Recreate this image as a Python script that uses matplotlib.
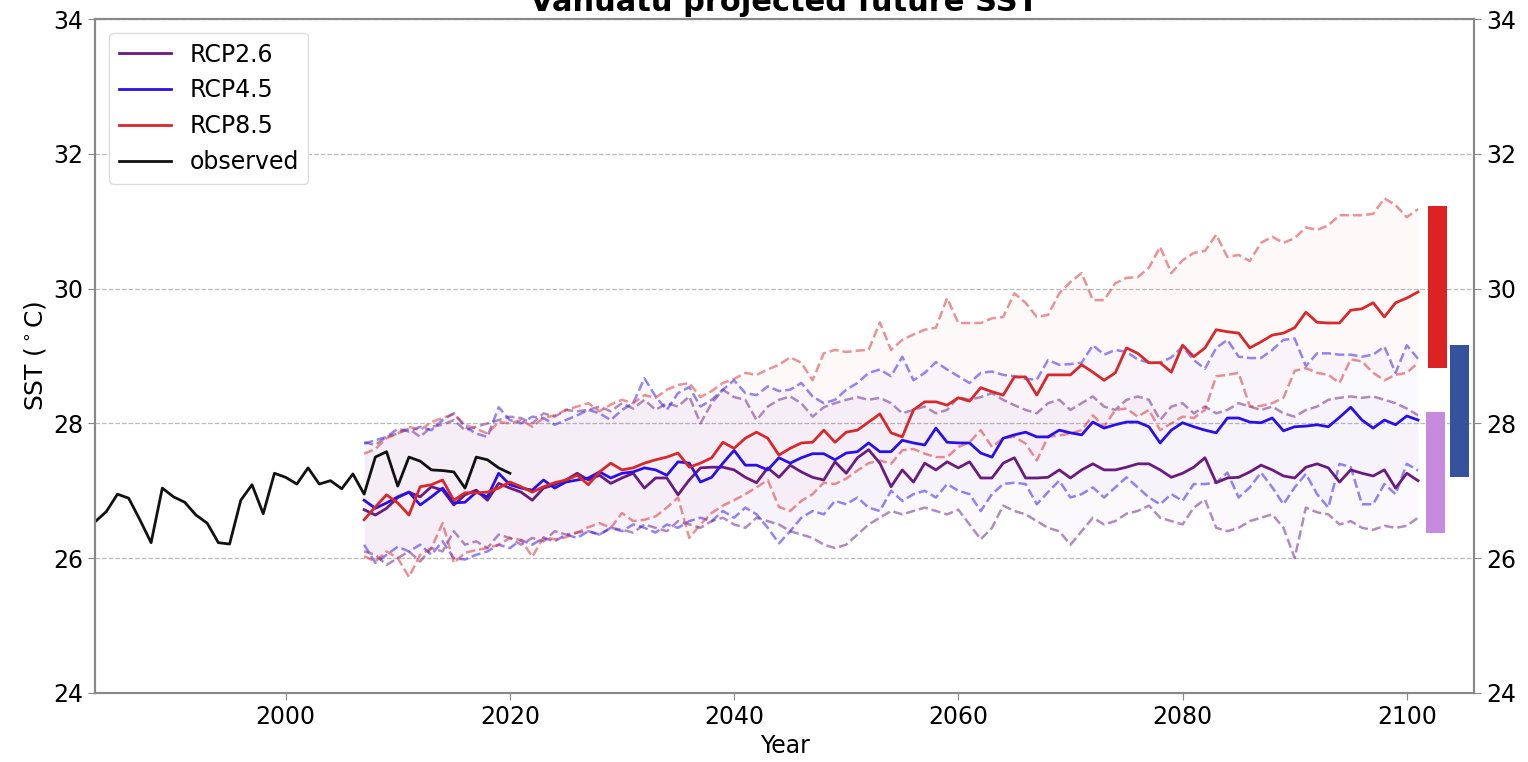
import numpy as np
import matplotlib.pyplot as plt

# observed SST
obs_years = np.arange(1983, 2021)
obs_sst = [26.54, 26.69, 26.95, 26.89, 26.57, 26.23, 27.04, 26.91, 26.83, 26.64,
           26.52, 26.23, 26.21, 26.86, 27.09, 26.66, 27.26, 27.20, 27.10, 27.34,
           27.10, 27.15, 27.03, 27.25, 26.95, 27.50, 27.58, 27.07, 27.50, 27.44,
           27.31, 27.30, 27.28, 27.04, 27.50, 27.46, 27.34, 27.26]

# model projections 2007-2101
proj_years = np.arange(2007, 2102)

rcp26_med = [26.72, 26.64, 26.74, 26.90, 26.98, 26.91, 27.06, 27.01, 26.79, 26.94,
             27.01, 26.86, 27.11, 27.04, 26.98, 26.86, 27.04, 27.09, 27.16, 27.26,
             27.16, 27.23, 27.11, 27.19, 27.26, 27.04, 27.19, 27.19, 26.94, 27.16,
             27.34, 27.35, 27.35, 27.31, 27.20, 27.12, 27.34, 27.20, 27.38, 27.28,
             27.20, 27.16, 27.43, 27.26, 27.49, 27.61, 27.41, 27.06, 27.31, 27.13,
             27.41, 27.31, 27.43, 27.34, 27.43, 27.19, 27.19, 27.41, 27.49, 27.19,
             27.19, 27.20, 27.31, 27.19, 27.31, 27.40, 27.31, 27.31, 27.35, 27.40,
             27.40, 27.31, 27.20, 27.26, 27.35, 27.49, 27.12, 27.19, 27.20, 27.28,
             27.38, 27.31, 27.22, 27.19, 27.35, 27.40, 27.34, 27.13, 27.31, 27.26,
             27.22, 27.31, 27.04, 27.26, 27.15]
rcp26_hi = [27.72, 27.68, 27.80, 27.85, 27.92, 27.80, 27.95, 27.98, 28.05, 27.90,
            27.95, 28.00, 28.05, 28.10, 28.08, 28.00, 28.15, 28.10, 28.20, 28.18,
            28.20, 28.25, 28.18, 28.30, 28.22, 28.35, 28.20, 28.30, 28.25, 28.40,
            28.00, 28.30, 28.50, 28.39, 28.35, 28.05, 28.25, 28.35, 28.40, 28.30,
            28.10, 28.24, 28.30, 28.35, 28.39, 28.35, 28.38, 28.30, 28.15, 28.20,
            28.25, 28.15, 28.20, 28.39, 28.35, 28.39, 28.45, 28.35, 28.27, 28.20,
            28.15, 28.30, 28.35, 28.20, 28.30, 28.40, 28.25, 28.20, 28.35, 28.40,
            28.35, 28.05, 28.25, 28.30, 28.15, 28.25, 28.15, 28.20, 28.30, 28.25,
            28.20, 28.25, 28.15, 28.10, 28.20, 28.25, 28.35, 28.38, 28.40, 28.38,
            28.40, 28.35, 28.30, 28.22, 28.12]
rcp26_lo = [26.10, 26.05, 25.90, 26.00, 26.10, 25.95, 26.15, 26.10, 26.40, 26.20,
            26.25, 26.15, 26.35, 26.30, 26.20, 26.30, 26.25, 26.40, 26.35, 26.38,
            26.40, 26.35, 26.45, 26.42, 26.38, 26.50, 26.45, 26.40, 26.55, 26.50,
            26.45, 26.55, 26.60, 26.50, 26.45, 26.60, 26.55, 26.50, 26.40, 26.35,
            26.30, 26.20, 26.15, 26.20, 26.35, 26.50, 26.60, 26.70, 26.65, 26.70,
            26.75, 26.70, 26.65, 26.72, 26.50, 26.28, 26.45, 26.78, 26.70, 26.65,
            26.55, 26.45, 26.40, 26.20, 26.40, 26.60, 26.50, 26.55, 26.66, 26.70,
            26.78, 26.60, 26.55, 26.50, 26.75, 26.87, 26.45, 26.40, 26.45, 26.55,
            26.60, 26.65, 26.45, 26.00, 26.75, 26.68, 26.65, 26.50, 26.55, 26.45,
            26.42, 26.48, 26.45, 26.48, 26.60]

rcp45_med = [26.86, 26.74, 26.82, 26.91, 26.98, 26.79, 26.91, 27.04, 26.82, 26.83,
             26.98, 26.91, 27.26, 27.09, 27.04, 27.01, 27.16, 27.04, 27.13, 27.16,
             27.19, 27.28, 27.19, 27.26, 27.28, 27.34, 27.31, 27.23, 27.43, 27.41,
             27.13, 27.20, 27.41, 27.60, 27.38, 27.38, 27.31, 27.49, 27.41, 27.49,
             27.55, 27.55, 27.46, 27.56, 27.58, 27.71, 27.58, 27.58, 27.75, 27.71,
             27.68, 27.93, 27.72, 27.71, 27.71, 27.56, 27.50, 27.78, 27.83, 27.87,
             27.80, 27.80, 27.90, 27.86, 27.83, 28.02, 27.93, 27.98, 28.02, 28.02,
             27.95, 27.71, 27.90, 28.01, 27.95, 27.90, 27.86, 28.08, 28.08, 28.02,
             28.01, 28.08, 27.89, 27.95, 27.96, 27.98, 27.95, 28.09, 28.24, 28.05,
             27.93, 28.05, 27.98, 28.11, 28.05]
rcp45_hi = [27.70, 27.75, 27.80, 27.92, 27.88, 27.95, 27.90, 28.05, 28.15, 27.95,
            27.85, 27.80, 28.24, 28.05, 28.00, 28.10, 28.08, 27.98, 28.05, 28.12,
            28.20, 28.15, 28.05, 28.20, 28.30, 28.67, 28.40, 28.20, 28.45, 28.54,
            28.25, 28.35, 28.50, 28.64, 28.45, 28.42, 28.55, 28.48, 28.50, 28.60,
            28.40, 28.30, 28.35, 28.50, 28.60, 28.75, 28.80, 28.70, 28.99, 28.64,
            28.75, 28.91, 28.80, 28.70, 28.60, 28.75, 28.77, 28.72, 28.70, 28.66,
            28.65, 28.94, 28.87, 28.88, 28.90, 29.16, 29.02, 29.09, 29.06, 28.95,
            28.90, 28.90, 28.98, 29.14, 28.94, 28.81, 29.12, 29.24, 28.99, 28.97,
            28.97, 29.09, 29.24, 29.26, 28.85, 29.04, 29.04, 29.02, 29.02, 28.99,
            29.02, 29.14, 28.75, 29.16, 28.96]
rcp45_lo = [26.20, 25.93, 26.05, 26.17, 26.10, 26.20, 26.05, 26.25, 26.00, 25.98,
            26.05, 26.10, 26.20, 26.15, 26.27, 26.20, 26.30, 26.25, 26.35, 26.30,
            26.40, 26.35, 26.45, 26.40, 26.50, 26.45, 26.38, 26.50, 26.45, 26.55,
            26.60, 26.55, 26.70, 26.60, 26.75, 26.65, 26.45, 26.22, 26.40, 26.60,
            26.70, 26.65, 26.85, 26.80, 26.90, 26.75, 26.70, 27.00, 26.85, 26.95,
            27.00, 26.90, 27.10, 27.00, 26.95, 26.70, 26.95, 27.10, 27.12, 27.10,
            26.80, 26.98, 27.15, 26.90, 26.95, 27.05, 26.90, 27.05, 27.20, 27.05,
            26.90, 26.80, 26.95, 26.85, 27.10, 27.10, 27.12, 27.27, 26.90, 27.05,
            27.27, 27.05, 26.80, 27.05, 27.25, 26.95, 26.75, 27.40, 27.35, 26.80,
            26.80, 27.10, 26.95, 27.40, 27.30]

rcp85_med = [26.57, 26.76, 26.94, 26.82, 26.64, 27.06, 27.09, 27.16, 26.86, 26.97,
             26.97, 26.98, 27.04, 27.13, 27.06, 26.98, 27.06, 27.12, 27.16, 27.23,
             27.09, 27.28, 27.41, 27.31, 27.34, 27.41, 27.46, 27.50, 27.56, 27.35,
             27.41, 27.49, 27.72, 27.63, 27.78, 27.87, 27.78, 27.53, 27.63, 27.71,
             27.72, 27.90, 27.72, 27.87, 27.90, 28.02, 28.14, 27.86, 27.80, 28.20,
             28.32, 28.32, 28.27, 28.38, 28.33, 28.53, 28.47, 28.42, 28.69, 28.69,
             28.42, 28.72, 28.72, 28.72, 28.87, 28.76, 28.64, 28.75, 29.12, 29.04,
             28.90, 28.90, 28.76, 29.16, 28.99, 29.12, 29.39, 29.36, 29.34, 29.12,
             29.21, 29.31, 29.34, 29.42, 29.65, 29.50, 29.49, 29.49, 29.68, 29.70,
             29.79, 29.58, 29.79, 29.86, 29.95]
rcp85_hi = [27.55, 27.62, 27.78, 27.85, 27.95, 27.90, 28.02, 28.08, 28.14, 27.98,
            27.92, 27.85, 28.02, 28.00, 28.05, 27.95, 28.08, 28.12, 28.20, 28.25,
            28.30, 28.18, 28.28, 28.35, 28.30, 28.42, 28.38, 28.50, 28.57, 28.60,
            28.39, 28.48, 28.60, 28.66, 28.75, 28.72, 28.80, 28.87, 28.98, 28.90,
            28.64, 29.04, 29.09, 29.06, 29.08, 29.09, 29.50, 29.09, 29.24, 29.32,
            29.39, 29.42, 29.86, 29.49, 29.49, 29.49, 29.56, 29.58, 29.93, 29.79,
            29.58, 29.61, 29.93, 30.10, 30.23, 29.83, 29.83, 30.08, 30.16, 30.17,
            30.31, 30.62, 30.23, 30.42, 30.53, 30.56, 30.80, 30.47, 30.50, 30.41,
            30.68, 30.77, 30.68, 30.75, 30.91, 30.87, 30.94, 31.09, 31.09, 31.09,
            31.11, 31.34, 31.24, 31.06, 31.18]
rcp85_lo = [26.03, 25.95, 26.10, 26.00, 25.72, 26.05, 26.15, 26.52, 25.93, 26.08,
            26.12, 26.15, 26.20, 26.30, 26.27, 26.02, 26.31, 26.28, 26.31, 26.38,
            26.46, 26.52, 26.45, 26.67, 26.55, 26.57, 26.62, 26.75, 26.90, 26.30,
            26.50, 26.67, 26.78, 26.86, 26.95, 27.05, 27.16, 26.76, 26.70, 26.85,
            26.95, 27.12, 27.10, 27.18, 27.30, 27.41, 27.45, 27.40, 27.60, 27.62,
            27.55, 27.50, 27.50, 27.65, 27.72, 27.90, 27.65, 27.78, 27.80, 27.70,
            27.45, 27.80, 27.82, 27.85, 27.90, 28.12, 27.95, 28.20, 28.22, 28.10,
            28.20, 27.90, 28.00, 28.10, 28.08, 28.20, 28.70, 28.72, 28.75, 28.25,
            28.26, 28.30, 28.38, 28.78, 28.82, 28.75, 28.72, 28.60, 28.95, 28.92,
            28.75, 28.64, 28.72, 28.75, 28.90]

# end-of-century ranges shown as bars at the right edge
range_x = [2102.6, 2104.7, 2102.7]
range_lo = [26.38, 27.21, 28.82]
range_hi = [28.17, 29.16, 31.23]
range_colors = ['#c78ade', '#34539c', '#dc2222']

scenarios = ['RCP2.6', 'RCP4.5', 'RCP8.5']
colors = ['#6a1b80', '#2a10e8', '#d8282a']
medians = [rcp26_med, rcp45_med, rcp85_med]
highs = [rcp26_hi, rcp45_hi, rcp85_hi]
lows = [rcp26_lo, rcp45_lo, rcp85_lo]

fig, ax = plt.subplots(figsize=(15.28, 7.62), dpi=100)
fig.subplots_adjust(left=0.0622, right=0.9647, bottom=0.0906, top=0.975)

for name, c, med, hi, lo in zip(scenarios, colors, medians, highs, lows):
    ax.fill_between(proj_years, lo, hi, color=c, alpha=0.022, lw=0)
    ax.plot(proj_years, hi, '--', color=c, alpha=0.5, lw=1.8)
    ax.plot(proj_years, lo, '--', color=c, alpha=0.5, lw=1.8)
for name, c, med in zip(scenarios, colors, medians):
    ax.plot(proj_years, med, color=c, lw=2.0, label=name)
ax.plot(obs_years, obs_sst, color='#111111', lw=2.0, label='observed')

ax.bar(range_x, np.array(range_hi) - np.array(range_lo), bottom=range_lo,
       width=1.7, color=range_colors)

ax.set_xlim(1983, 2106)
ax.set_ylim(24, 34)
ax.set_yticks([24, 26, 28, 30, 32, 34])
ax.set_xticks([2000, 2020, 2040, 2060, 2080, 2100])
ax.yaxis.grid(True, linestyle='--', color='#bbbbbb', lw=0.9)
ax.set_axisbelow(True)
ax.tick_params(labelsize=17, color='#888888', length=5)
ax.set_xlabel('Year', fontsize=17)
ax.set_ylabel('SST ($^\\circ$C)', fontsize=18)
ax.set_title('Vanuatu projected future SST', fontsize=22, fontweight='bold')

ax2 = ax.twinx()
ax2.set_ylim(24, 34)
ax2.set_yticks([24, 26, 28, 30, 32, 34])
ax2.tick_params(labelsize=17, color='#888888', length=5)

for a in (ax, ax2):
    for s in a.spines.values():
        s.set_color('#888888')
        s.set_linewidth(1.5)

ax.legend(loc='upper left', fontsize=17, handlelength=2.2, framealpha=1,
          edgecolor='#dddddd', borderaxespad=0.6)

plt.savefig('out.png', dpi=100)
